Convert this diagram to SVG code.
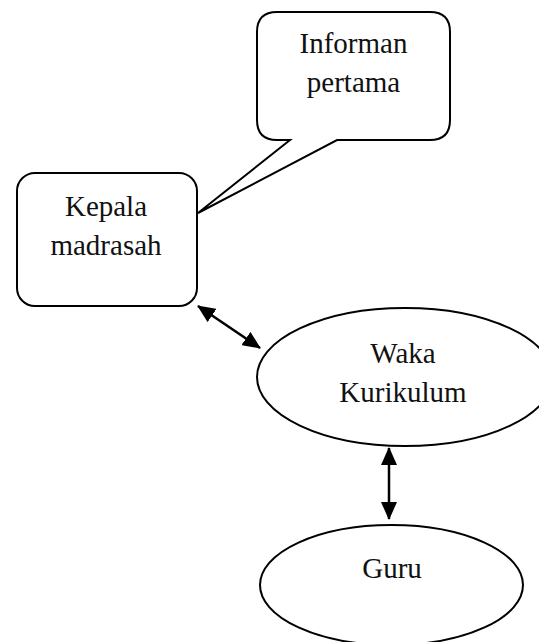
<svg xmlns="http://www.w3.org/2000/svg" width="539" height="642" viewBox="0 0 539 642">
  <style>
    .shape { fill: #ffffff; stroke: #000000; stroke-width: 2; }
    .label { font-family: "Liberation Serif", "Times New Roman", serif; font-size: 29px; fill: #111111; text-anchor: middle; }
    .link { stroke: #000000; stroke-width: 2.5; fill: none; marker-start: url(#head); marker-end: url(#head); }
  </style>
  <defs>
    <marker id="head" viewBox="0 0 18 16" refX="17" refY="8" markerWidth="18" markerHeight="16" markerUnits="userSpaceOnUse" orient="auto-start-reverse">
      <path d="M0,0 L18,8 L0,16 Z" fill="#000000"/>
    </marker>
  </defs>
  <rect width="539" height="642" fill="#ffffff"/>

  <!-- speech bubble with tail pointing at the head of school -->
  <g id="informan">
    <path class="shape" d="M277,12 H430 Q450,12 450,32 V120 Q450,140 430,140 H337 L198,213 L290,140 H277 Q257,140 257,120 V32 Q257,12 277,12 Z"/>
    <text class="label" x="353.5" y="53">Informan</text>
    <text class="label" x="353.5" y="92">pertama</text>
  </g>

  <g id="kepala">
    <rect class="shape" x="17" y="173" width="180" height="133" rx="18" ry="18"/>
    <text class="label" x="106" y="216">Kepala</text>
    <text class="label" x="106" y="255">madrasah</text>
  </g>

  <g id="waka">
    <ellipse class="shape" cx="405" cy="377" rx="148" ry="69"/>
    <text class="label" x="403" y="363">Waka</text>
    <text class="label" x="403" y="402">Kurikulum</text>
  </g>

  <g id="guru">
    <ellipse class="shape" cx="391.5" cy="585" rx="131.5" ry="60"/>
    <text class="label" x="392" y="578">Guru</text>
  </g>

  <g id="connectors">
    <line class="link" x1="198" y1="306" x2="260" y2="348"/>
    <line class="link" x1="389" y1="448" x2="389" y2="519"/>
  </g>
</svg>
